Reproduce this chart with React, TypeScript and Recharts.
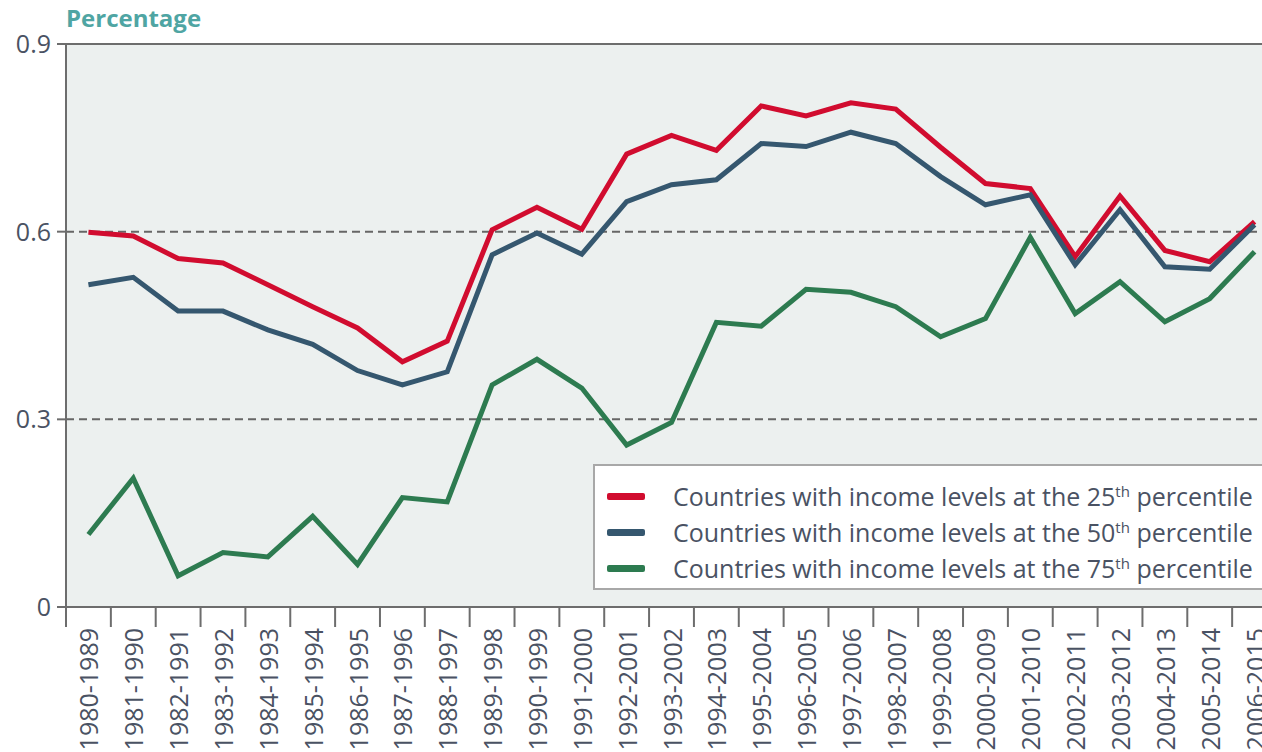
import React from "react";
import {
  LineChart,
  Line,
  XAxis,
  YAxis,
  CartesianGrid,
  ReferenceLine,
  Legend,
} from "recharts";

const periods = [
  "1980-1989", "1981-1990", "1982-1991", "1983-1992", "1984-1993", "1985-1994",
  "1986-1995", "1987-1996", "1988-1997", "1989-1998", "1990-1999", "1991-2000",
  "1992-2001", "1993-2002", "1994-2003", "1995-2004", "1996-2005", "1997-2006",
  "1998-2007", "1999-2008", "2000-2009", "2001-2010", "2002-2011", "2003-2012",
  "2004-2013", "2005-2014", "2006-2015",
];

const p25 = [
  0.599, 0.593, 0.557, 0.55, 0.515, 0.48, 0.446, 0.392, 0.425, 0.603, 0.639, 0.604,
  0.724, 0.754, 0.73, 0.801, 0.785, 0.806, 0.796, 0.735, 0.677, 0.669, 0.56, 0.657,
  0.57, 0.552, 0.616,
];

const p50 = [
  0.515, 0.527, 0.473, 0.473, 0.443, 0.42, 0.378, 0.355, 0.376, 0.563, 0.598, 0.564,
  0.648, 0.675, 0.683, 0.741, 0.736, 0.759, 0.741, 0.688, 0.643, 0.659, 0.547, 0.635,
  0.544, 0.54, 0.611,
];

const p75 = [
  0.116, 0.206, 0.05, 0.087, 0.08, 0.145, 0.068, 0.175, 0.168, 0.355, 0.396, 0.35,
  0.259, 0.295, 0.455, 0.449, 0.508, 0.503, 0.48, 0.432, 0.461, 0.591, 0.469, 0.52,
  0.456, 0.493, 0.568,
];

const yTicks = [0, 0.3, 0.6, 0.9];

const series = [
  { key: "p25", rank: "25", color: "#d10c2f" },
  { key: "p50", rank: "50", color: "#35576f" },
  { key: "p75", rank: "75", color: "#2d7b50" },
];

const data = periods.map((period, i) => ({
  period,
  p25: p25[i],
  p50: p50[i],
  p75: p75[i],
}));

const FONT = "'Open Sans', sans-serif";
const TEXT = "#4a5263";
const AXIS = "#6d6d6d";

const CHART_W = 1290;
const CHART_H = 752;
const PLOT_LEFT = 66;
const PLOT_RIGHT = 1277;
const BAND = (PLOT_RIGHT - PLOT_LEFT) / periods.length;

// labels sit in the middle of each band, tick marks on the band edges
function PeriodTick(props: any) {
  const { x, y, payload } = props;
  const edge = x - BAND / 2;
  return (
    <g>
      <line x1={edge} x2={edge} y1={y} y2={y + 20} stroke={AXIS} strokeWidth={2} />
      <text
        transform={`translate(${x},${y}) rotate(-90)`}
        x={-21}
        y={10}
        textAnchor="end"
        fill={TEXT}
        fontSize={25}
        fontFamily={FONT}
      >
        {payload.value}
      </text>
    </g>
  );
}

function LegendBox() {
  return (
    <div
      style={{
        width: 690,
        height: 126,
        boxSizing: "border-box",
        border: "2px solid #a8a8a8",
        background: "#fff",
        paddingTop: 12,
        fontFamily: FONT,
        fontSize: 25,
        color: TEXT,
      }}
    >
      {series.map((s) => (
        <div
          key={s.key}
          style={{ display: "flex", alignItems: "center", height: 36, whiteSpace: "nowrap" }}
        >
          <span
            style={{
              display: "inline-block",
              width: 38,
              height: 7,
              marginLeft: 12,
              marginRight: 28,
              background: s.color,
              borderRadius: 2,
            }}
          />
          <span>
            Countries with income levels at the {s.rank}
            <sup style={{ fontSize: 15, lineHeight: 0 }}>th</sup> percentile
          </span>
        </div>
      ))}
    </div>
  );
}

export default function App() {
  return (
    <div
      style={{
        position: "absolute",
        left: 0,
        top: 0,
        width: 1262,
        height: 752,
        overflow: "hidden",
        background: "#fff",
      }}
    >
      <div
        style={{
          position: "absolute",
          left: 66,
          top: 1,
          fontFamily: FONT,
          fontWeight: 700,
          fontSize: 24,
          lineHeight: "34px",
          color: "#4fa5a3",
          zIndex: 2,
        }}
      >
        Percentage
      </div>
      <LineChart
        width={CHART_W}
        height={CHART_H}
        data={data}
        margin={{ top: 44, right: CHART_W - PLOT_RIGHT, bottom: 0, left: 0 }}
      >
        <CartesianGrid
          vertical={false}
          stroke="#666"
          strokeWidth={2}
          strokeDasharray="8 5"
          fill="#ecf0ef"
          fillOpacity={1}
        />
        <XAxis
          dataKey="period"
          scale="band"
          interval={0}
          height={145}
          tickLine={false}
          tickSize={0}
          tickMargin={0}
          axisLine={{ stroke: AXIS, strokeWidth: 2 }}
          tick={<PeriodTick />}
        />
        <YAxis
          type="number"
          domain={[0, 0.9]}
          ticks={yTicks}
          width={PLOT_LEFT}
          tickSize={9}
          tickMargin={6}
          tickLine={{ stroke: AXIS, strokeWidth: 2 }}
          axisLine={{ stroke: AXIS, strokeWidth: 2 }}
          tick={{ fill: TEXT, fontSize: 25, fontFamily: FONT }}
          tickFormatter={(v: number) => (v === 0 ? "0" : v.toFixed(1))}
        />
        <ReferenceLine y={0.9} stroke={AXIS} strokeWidth={2} />
        {series.map((s) => (
          <Line
            key={s.key}
            type="linear"
            dataKey={s.key}
            stroke={s.color}
            strokeWidth={5}
            dot={false}
            activeDot={false}
            isAnimationActive={false}
          />
        ))}
        <Legend
          layout="vertical"
          align="center"
          verticalAlign="middle"
          content={<LegendBox />}
          wrapperStyle={{ left: 593, top: 464, width: 690 }}
        />
      </LineChart>
    </div>
  );
}
